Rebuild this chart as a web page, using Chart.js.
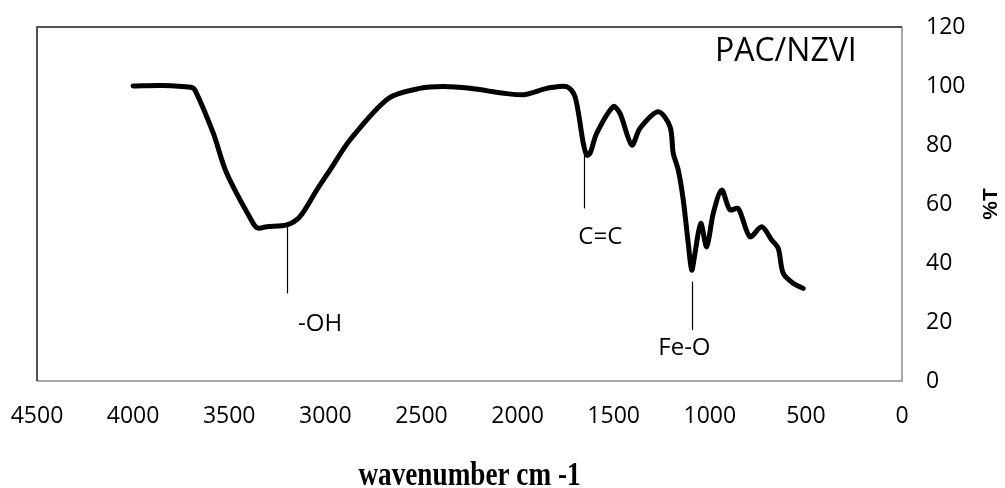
<!DOCTYPE html>
<html>
<head>
    <title>PAC/NZVI FTIR</title>
    <script src="https://cdn.jsdelivr.net/npm/chart.js@4.4.1/dist/chart.umd.min.js"></script>
    <style>
        body { margin: 0; background: #fff; }
    </style>
</head>
<body>
    <canvas id="ftir-chart" width="1005" height="488"></canvas>

    <script>
        // FTIR spectrum, wavenumber (cm-1) against transmittance (%T)
        var wavenumber = [4000, 3850, 3700, 3678, 3583, 3513, 3375, 3349, 3305, 3201, 3132, 3045, 2976, 2872, 2672,
            2508, 2386, 2247, 1978, 1848, 1744, 1701, 1658, 1640, 1623, 1588, 1502, 1467, 1406, 1363, 1268,
            1207, 1190, 1164, 1138, 1112, 1094, 1077, 1047, 1016, 982, 938, 895, 852, 791, 730, 678, 644,
            618, 566, 514];
        var transmittance = [100, 100.2, 99.6, 98.6, 84, 70.4, 53.4, 51.8, 52.3, 52.9, 55.7, 64.7, 71.5, 81.7, 95.8,
            99.2, 99.8, 99.2, 97, 99.2, 99.8, 96.4, 80.6, 76.6, 77.2, 84, 93, 90.7, 80, 85.7, 91.3,
            86.2, 77.2, 71.5, 61.4, 46.7, 37.6, 43.3, 53.4, 45.5, 56.8, 64.7, 58, 58.5, 48.9, 52.3, 47.8, 45,
            36.5, 33.1, 31.4];

        // band assignments: marker line at the band, from the curve down, label under it
        var bandNames = ['-OH', 'C=C', 'Fe-O'];
        var bandWave = [3201, 1655, 1094];
        var bandFrom = [52.9, 76.6, 33.7];
        var bandTo = [29.7, 58.5, 17.3];
        var bandLabelWave = [3142, 1684, 1268];
        var bandLabelT = [19.3, 48.6, 11.2];

        var points = wavenumber.map(function(w, i) {
            return { x: w, y: transmittance[i] };
        });

        var tickFont = { family: "'Open Sans'", size: 23 };

        // keep the plot box where the layout padding puts it
        function noEdgePadding(scale) {
            scale.paddingLeft = 0;
            scale.paddingRight = 0;
            scale.paddingTop = 0;
            scale.paddingBottom = 0;
        }

        var ftirMarks = {
            id: 'ftirMarks',
            afterDraw: function(chart) {
                var ctx = chart.ctx;
                var a = chart.chartArea;
                var x = chart.scales.x;
                var y = chart.scales.y;
                ctx.save();

                // plot frame
                ctx.lineWidth = 1.5;
                ctx.strokeStyle = '#8c8c8c';
                ctx.beginPath();
                ctx.moveTo(a.left, a.bottom);
                ctx.lineTo(a.right, a.bottom);
                ctx.lineTo(a.right, a.top);
                ctx.stroke();
                ctx.strokeStyle = '#1a1a1a';
                ctx.beginPath();
                ctx.moveTo(a.left, a.bottom);
                ctx.lineTo(a.left, a.top);
                ctx.lineTo(a.right, a.top);
                ctx.stroke();

                // band markers
                ctx.strokeStyle = '#000';
                ctx.lineWidth = 1.2;
                ctx.fillStyle = '#000';
                ctx.font = "24px 'Open Sans'";
                ctx.textAlign = 'left';
                ctx.textBaseline = 'middle';
                bandNames.forEach(function(name, i) {
                    var px = Math.round(x.getPixelForValue(bandWave[i])) + 0.5;
                    ctx.beginPath();
                    ctx.moveTo(px, y.getPixelForValue(bandFrom[i]));
                    ctx.lineTo(px, y.getPixelForValue(bandTo[i]));
                    ctx.stroke();
                    ctx.fillText(name, x.getPixelForValue(bandLabelWave[i]), y.getPixelForValue(bandLabelT[i]));
                });

                // sample name
                ctx.font = "32px 'Open Sans'";
                ctx.fillText('PAC/NZVI', x.getPixelForValue(973), y.getPixelForValue(111.6));

                // x axis title, Times-style bold, narrowed
                ctx.font = "bold 34px 'Liberation Serif'";
                ctx.textAlign = 'center';
                ctx.textBaseline = 'alphabetic';
                ctx.save();
                ctx.translate((a.left + a.right) / 2, 485);
                ctx.scale(0.8, 1);
                ctx.fillText('wavenumber cm -1', 0, 0);
                ctx.restore();

                // y axis title, reading upwards
                ctx.font = "bold 21px 'Liberation Sans'";
                ctx.save();
                ctx.translate(991, (a.top + a.bottom) / 2);
                ctx.rotate(-Math.PI / 2);
                ctx.textBaseline = 'middle';
                ctx.fillText('%T', 0, 0);
                ctx.restore();

                ctx.restore();
            }
        };

        var ctx = document.getElementById('ftir-chart').getContext('2d');
        var ftirChart = new Chart(ctx, {
            type: 'line',
            data: {
                datasets: [{
                    label: 'PAC/NZVI',
                    data: points,
                    borderColor: '#000',
                    borderWidth: 5,
                    borderCapStyle: 'round',
                    borderJoinStyle: 'round',
                    pointRadius: 0,
                    tension: 0.3,
                    fill: false
                }]
            },
            options: {
                responsive: false,
                animation: false,
                layout: {
                    padding: { left: 37, top: 27, right: 0, bottom: 0 }
                },
                scales: {
                    x: {
                        type: 'linear',
                        reverse: true,
                        min: 0,
                        max: 4500,
                        grid: { display: false, drawTicks: false },
                        border: { display: false },
                        ticks: {
                            stepSize: 500, font: tickFont, color: '#000', padding: 22, maxRotation: 0,
                            callback: function(value) { return String(value); }
                        },
                        afterFit: function(scale) {
                            scale.height = 107;
                            noEdgePadding(scale);
                        }
                    },
                    y: {
                        position: 'right',
                        min: 0,
                        max: 120,
                        grid: { display: false, drawTicks: false },
                        border: { display: false },
                        ticks: {
                            stepSize: 20, font: tickFont, color: '#000', padding: 24,
                            callback: function(value) { return String(value); }
                        },
                        afterFit: function(scale) {
                            scale.width = 103;
                            noEdgePadding(scale);
                        }
                    }
                },
                plugins: {
                    legend: { display: false },
                    tooltip: { enabled: false }
                }
            },
            plugins: [ftirMarks]
        });
    </script>
</body>
</html>
